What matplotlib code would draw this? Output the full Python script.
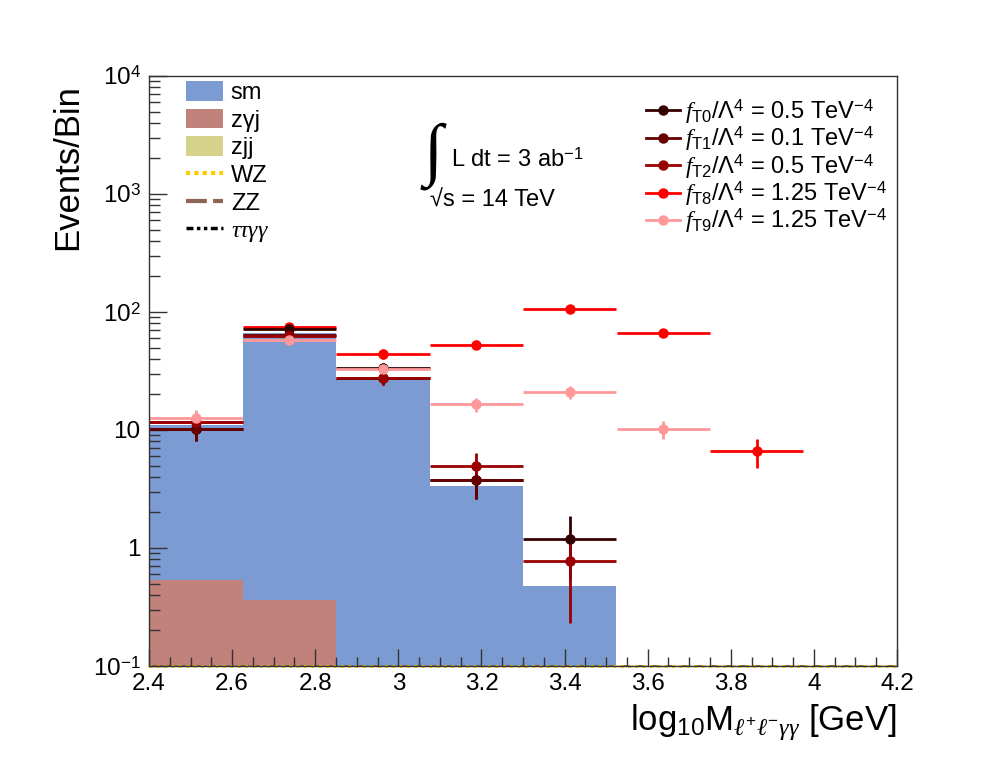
import numpy as np
import matplotlib
matplotlib.use('Agg')
import matplotlib.pyplot as plt
from matplotlib.patches import Patch
from matplotlib.lines import Line2D
from matplotlib.ticker import FixedLocator, FixedFormatter, LogLocator, NullFormatter, MultipleLocator

plt.rcParams['font.family'] = ['Liberation Sans', 'DejaVu Sans']
plt.rcParams['mathtext.fontset'] = 'custom'
plt.rcParams['mathtext.rm'] = 'Liberation Sans'
plt.rcParams['mathtext.it'] = 'Liberation Serif:italic'
plt.rcParams['mathtext.bf'] = 'Liberation Sans:bold'

# binning of log10(M)
edges = [2.4, 2.625, 2.85, 3.075, 3.3, 3.525, 3.75, 3.975, 4.2]

# backgrounds
sm = [11.0, 66.0, 27.0, 3.35, 0.48, 0, 0, 0]
zgj = [0.54, 0.36, 0, 0, 0, 0, 0, 0]
zjj = [0, 0, 0, 0, 0, 0, 0, 0]
wz = [0.1, 0.1, 0.1, 0.1, 0.1, 0.1, 0.1, 0.1]
zz = [0.1, 0.1, 0.1, 0.1, 0.1, 0.1, 0.1, 0.1]
ttgg = [0.1, 0.1, 0.1, 0.1, 0.1, 0.1, 0.1, 0.1]

# signals (nan = empty bin)
nan = np.nan
t0 = [10.1, 72.0, 33.5, 3.8, 1.2, nan, nan, nan]
t0_err = [2.0, 5.3, 3.6, 1.2, 0.65, nan, nan, nan]
t1 = [10.1, 64.0, 27.5, 3.8, nan, nan, nan, nan]
t1_err = [2.0, 5.0, 3.3, 1.2, nan, nan, nan, nan]
t2 = [11.6, 63.0, 27.5, 5.0, 0.78, nan, nan, nan]
t2_err = [2.1, 5.0, 3.3, 1.4, 0.55, nan, nan, nan]
t8 = [11.6, 74.0, 44.0, 53.0, 105.0, 66.0, 6.6, nan]
t8_err = [2.2, 5.4, 4.2, 4.5, 6.5, 5.1, 1.8, nan]
t9 = [12.7, 58.0, 33.0, 16.5, 21.0, 10.2, nan, nan]
t9_err = [2.2, 4.8, 3.6, 2.3, 2.6, 1.8, nan, nan]

sig_labels = {
    't0': r'$f_{\mathrm{T0}}/\Lambda^{4}$ = 0.5 TeV$^{-4}$',
    't1': r'$f_{\mathrm{T1}}/\Lambda^{4}$ = 0.1 TeV$^{-4}$',
    't2': r'$f_{\mathrm{T2}}/\Lambda^{4}$ = 0.5 TeV$^{-4}$',
    't8': r'$f_{\mathrm{T8}}/\Lambda^{4}$ = 1.25 TeV$^{-4}$',
    't9': r'$f_{\mathrm{T9}}/\Lambda^{4}$ = 1.25 TeV$^{-4}$',
}
sig_colors = {'t0': '#330000', 't1': '#660000', 't2': '#990000',
              't8': '#ff0000', 't9': '#ff9999'}

edges_a = np.array(edges)
centers = 0.5 * (edges_a[1:] + edges_a[:-1])
halfw = 0.5 * (edges_a[1:] - edges_a[:-1])

fig = plt.figure(figsize=(9.98, 7.75), dpi=100)
W, H = 998.0, 775.0
ax = fig.add_axes([149 / W, 1 - 666 / H, 748 / W, 590 / H])
ax.set_yscale('log', nonpositive='clip')

ax.stairs(sm, edges, fill=True, color='#7b9bd2', baseline=1e-3)
ax.stairs(zgj, edges, fill=True, color='#c0827a', baseline=1e-3)
ax.stairs(zjj, edges, fill=True, color='#d5d28b', baseline=1e-3)
ax.stairs(ttgg, edges, color='black', lw=1, ls='-.', baseline=None)
ax.stairs(zz, edges, color='#8c6450', lw=2, ls='--', baseline=None)
ax.stairs(wz, edges, color='#ffcc00', lw=2, ls=':', baseline=None, clip_on=False)

sigs = {'t8': (t8, t8_err), 't0': (t0, t0_err), 't1': (t1, t1_err),
        't2': (t2, t2_err), 't9': (t9, t9_err)}
for key, (vals, errs) in sigs.items():
    ax.errorbar(centers, vals, xerr=halfw, yerr=errs, fmt='o',
                color=sig_colors[key], ms=6.5, lw=2, capsize=0)

ax.set_xlim(2.4, 4.2)
ax.set_ylim(0.1, 1e4)

ax.xaxis.set_minor_locator(MultipleLocator(0.05))
ax.set_xticks([2.4, 2.6, 2.8, 3.0, 3.2, 3.4, 3.6, 3.8, 4.0, 4.2])
ax.set_xticklabels(['2.4', '2.6', '2.8', '3', '3.2', '3.4', '3.6', '3.8', '4', '4.2'])
ax.yaxis.set_major_locator(FixedLocator([0.1, 1, 10, 100, 1e3, 1e4]))
ax.yaxis.set_major_formatter(FixedFormatter(['10$^{-1}$', '1', '10', '10$^{2}$', '10$^{3}$', '10$^{4}$']))
ax.yaxis.set_minor_locator(LogLocator(base=10, subs=np.arange(2, 10)))
ax.yaxis.set_minor_formatter(NullFormatter())

ax.tick_params(axis='both', which='both', direction='in', top=False, right=False,
               labelsize=17.5, width=1, color='#333333')
ax.tick_params(axis='x', which='major', length=12, pad=5)
ax.tick_params(axis='x', which='minor', length=6.5)
ax.tick_params(axis='y', which='major', length=13, pad=6)
ax.tick_params(axis='y', which='minor', length=8)
for s in ax.spines.values():
    s.set_linewidth(1)
    s.set_color('#333333')

fig.text(68 / W, 1 - 84 / H, 'Events/Bin', rotation=90, ha='center', va='top', fontsize=25)
fig.text(897 / W, 1 - 730 / H, r'log$_{10}$M$_{\ell^{+}\ell^{-}\gamma\gamma}$ [GeV]',
         ha='right', va='baseline', fontsize=25)

fig.text(433 / W, 1 - 156 / H, '\u222b', ha='center', va='center', fontsize=50,
         family='Liberation Serif')
fig.text(451 / W, 1 - 167 / H, 'L dt = 3 ab$^{-1}$', ha='left', va='baseline', fontsize=17)
fig.text(430 / W, 1 - 207 / H, '\u221as = 14 TeV', ha='left', va='baseline', fontsize=17)

bkg_handles = [
    Patch(facecolor='#7b9bd2', edgecolor='none'),
    Patch(facecolor='#c0827a', edgecolor='none'),
    Patch(facecolor='#d5d28b', edgecolor='none'),
    Line2D([], [], color='#ffcc00', lw=3, ls=(0, (1, 1))),
    Line2D([], [], color='#8c6450', lw=3, ls=(0, (5, 1.5))),
    Line2D([], [], color='black', lw=2.5, ls=(0, (2, 1, 1, 1, 1, 1))),
]
bkg_labels = ['sm', 'z\u03b3j', 'zjj', 'WZ', 'ZZ', r'$\tau\tau\gamma\gamma$']
leg1 = ax.legend(bkg_handles, bkg_labels, loc='upper left',
                 bbox_to_anchor=((186 - 149) / 748, (666 - 81) / 590),
                 frameon=False, fontsize=17, handlelength=1.55, handleheight=0.9,
                 handletextpad=0.35, labelspacing=0.2, borderpad=0, borderaxespad=0)
ax.add_artist(leg1)

sig_order = ['t0', 't1', 't2', 't8', 't9']
sig_handles = [Line2D([], [], color=sig_colors[k], lw=2, marker='o', ms=6.5) for k in sig_order]
leg2 = ax.legend(sig_handles, [sig_labels[k] for k in sig_order], loc='upper left',
                 bbox_to_anchor=((646 - 149) / 748, (666 - 97) / 590),
                 frameon=False, fontsize=17, handlelength=1.45,
                 handletextpad=0.2, labelspacing=-0.06, borderpad=0, borderaxespad=0)

fig.savefig('out.png', dpi=100)
